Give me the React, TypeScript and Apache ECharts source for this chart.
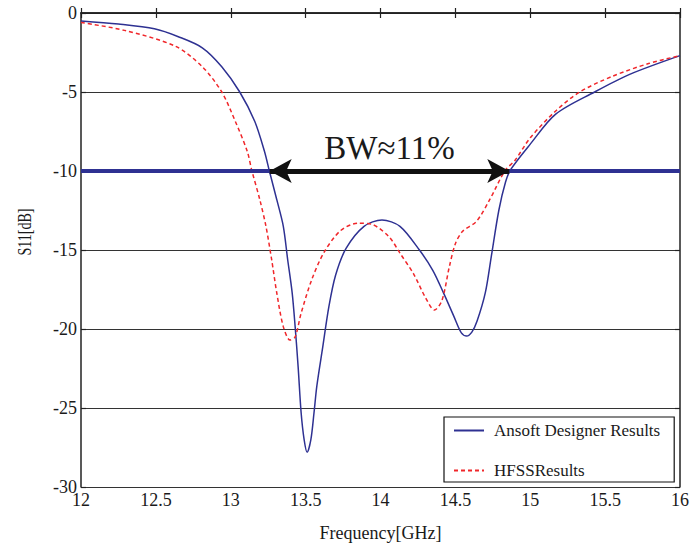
import React, { useEffect, useRef } from "react";
import * as echarts from "echarts";

const ansoftData: [number, number][] = [
  [12.0, -0.5], [12.25, -0.7], [12.49, -1.0], [12.65, -1.5], [12.81, -2.2],
  [12.94, -3.4], [13.06, -5.0], [13.16, -6.85], [13.225, -8.75], [13.258, -10.0],
  [13.307, -11.8], [13.351, -13.5], [13.38, -15.6], [13.41, -17.7], [13.43, -19.85],
  [13.45, -22.4], [13.47, -25.3], [13.49, -27.0], [13.51, -27.8], [13.535, -27.0],
  [13.556, -25.3], [13.575, -23.6], [13.615, -21.1], [13.655, -18.6], [13.7, -16.6],
  [13.77, -14.9], [13.89, -13.5], [14.01, -13.1], [14.13, -13.5], [14.26, -15.0],
  [14.35, -16.3], [14.42, -17.7], [14.49, -19.2], [14.54, -20.25], [14.575, -20.45],
  [14.61, -20.2], [14.645, -19.5], [14.7, -17.7], [14.74, -15.4], [14.79, -12.5],
  [14.835, -10.7], [14.87, -9.9], [15.0, -8.3], [15.17, -6.4], [15.43, -5.0],
  [15.66, -3.9], [16.0, -2.7],
];

const hfssData: [number, number][] = [
  [12.0, -0.6], [12.29, -1.1], [12.63, -2.1], [12.81, -3.4], [12.94, -5.0],
  [13.03, -6.85], [13.11, -8.75], [13.14, -9.94], [13.195, -11.85], [13.235, -13.5],
  [13.273, -15.6], [13.307, -17.7], [13.351, -19.85], [13.396, -20.7], [13.43, -20.5],
  [13.47, -19.0], [13.54, -16.9], [13.62, -15.2], [13.73, -13.8], [13.85, -13.3],
  [13.95, -13.4], [14.06, -14.2], [14.13, -15.2], [14.22, -16.5], [14.3, -18.0],
  [14.36, -18.8], [14.41, -18.2], [14.46, -16.05], [14.5, -14.6], [14.55, -13.8],
  [14.64, -13.2], [14.73, -11.8], [14.83, -10.0], [14.9, -9.3], [15.0, -7.9],
  [15.17, -6.2], [15.33, -5.0], [15.55, -4.0], [15.79, -3.2], [16.0, -2.7],
];

const threshold = -10;
const bandEdges = [13.26, 14.86];
const bandLabel = "BW≈11%";
const seriesNames = ["Ansoft Designer Results", "HFSSResults"];
const xRange = [12, 16];
const yRange = [-30, 0];

const FONT = "'Liberation Serif', 'Times New Roman', serif";
const BLUE = "#2E3192";
const RED = "#F0262A";

export default function App() {
  const ref = useRef<HTMLDivElement>(null);
  useEffect(() => {
    if (!ref.current) return;
    const chart = echarts.init(ref.current, null, { renderer: "svg" });
    const axisLine = { show: true, lineStyle: { color: "#222", width: 1.5 } };
    const tick = { show: true, inside: true, length: 5, lineStyle: { color: "#222", width: 1.2 } };
    const curve = { smooth: 0.3, symbol: "none" };
    chart.setOption({
      animation: false,
      backgroundColor: "#fff",
      textStyle: { fontFamily: FONT },
      grid: { left: 81, top: 13, right: 12, bottom: 60, containLabel: false },
      legend: {
        orient: "vertical",
        left: 444,
        top: 417,
        data: seriesNames,
        backgroundColor: "#fff",
        borderColor: "#111",
        borderWidth: 1.2,
        borderRadius: 0,
        padding: [5, 14, 3, 9],
        itemGap: 23,
        itemWidth: 30,
        itemHeight: 14,
        itemStyle: { opacity: 0 },
        textStyle: { fontFamily: FONT, fontSize: 17, color: "#1a1a1a", padding: [0, 0, 0, 5] },
      },
      xAxis: [
        {
          type: "value",
          min: xRange[0],
          max: xRange[1],
          interval: 0.5,
          axisLine,
          axisTick: tick,
          axisLabel: { fontFamily: FONT, fontSize: 18, lineHeight: 13, color: "#1a1a1a", margin: 6 },
          splitLine: { show: false },
          name: "Frequency[GHz]",
          nameLocation: "middle",
          nameGap: 37,
          nameTextStyle: { fontFamily: FONT, fontSize: 18, color: "#1a1a1a" },
        },
        {
          type: "value",
          position: "top",
          min: xRange[0],
          max: xRange[1],
          interval: 0.5,
          axisLine,
          axisTick: tick,
          axisLabel: { show: false },
          splitLine: { show: false },
        },
      ],
      yAxis: [
        {
          type: "value",
          min: yRange[0],
          max: yRange[1],
          interval: 5,
          axisLine,
          axisTick: tick,
          axisLabel: { fontFamily: FONT, fontSize: 18, lineHeight: 12, color: "#1a1a1a", margin: 4 },
          splitLine: { show: true, lineStyle: { color: "#333", width: 1 } },
        },
        {
          type: "value",
          position: "right",
          min: yRange[0],
          max: yRange[1],
          interval: 5,
          axisLine,
          axisTick: tick,
          axisLabel: { show: false },
          splitLine: { show: false },
        },
      ],
      graphic: [
        {
          type: "text",
          x: 25,
          y: 232,
          rotation: Math.PI / 2,
          scaleX: 0.78,
          style: {
            text: "S11[dB]",
            fontFamily: FONT,
            fontSize: 18,
            fill: "#1a1a1a",
            align: "center",
            verticalAlign: "middle",
          },
        },
      ],
      series: [
        {
          name: seriesNames[0],
          type: "line",
          data: ansoftData,
          ...curve,
          lineStyle: { color: BLUE, width: 1.5 },
          itemStyle: { color: BLUE },
          z: 3,
          markLine: {
            silent: true,
            symbol: ["none", "none"],
            animation: false,
            data: [
              {
                yAxis: threshold,
                lineStyle: { color: BLUE, width: 4, type: "solid" },
                label: { show: false },
              },
              [
                {
                  coord: [bandEdges[0], threshold],
                  symbol: "arrow",
                  symbolSize: [18, 22],
                  lineStyle: { color: "#111", width: 5, type: "solid" },
                  label: {
                    show: true,
                    position: "middle",
                    formatter: bandLabel,
                    fontFamily: FONT,
                    fontSize: 33,
                    color: "#1a1a1a",
                    distance: 7,
                  },
                },
                { coord: [bandEdges[1], threshold], symbol: "arrow", symbolSize: [18, 22] },
              ],
            ],
          },
        },
        {
          name: seriesNames[1],
          type: "line",
          data: hfssData,
          ...curve,
          lineStyle: { color: RED, width: 1.5, type: [4, 3] },
          itemStyle: { color: RED },
          z: 4,
        },
      ],
    });
    return () => chart.dispose();
  }, []);
  return (
    <div
      ref={ref}
      style={{ position: "absolute", left: 0, top: 0, width: 692, height: 547 }}
    />
  );
}
